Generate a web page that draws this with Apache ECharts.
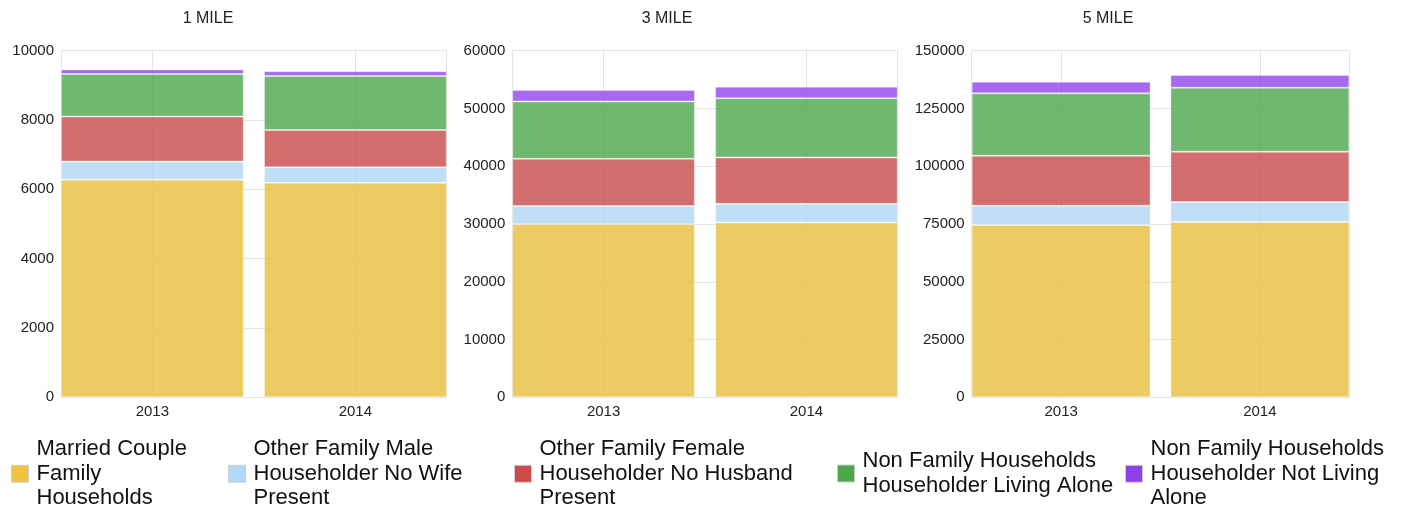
<!DOCTYPE html>
<html><head><meta charset="utf-8">
<script src="https://cdn.jsdelivr.net/npm/echarts@6/dist/echarts.min.js"></script>
<style>html,body{margin:0;padding:0;background:#fff}#c{width:1402px;height:510px}</style>
</head><body><div id="c"></div>
<script>
const years = ['2013', '2014'];
const seriesNames = [
  'Married Couple Family Households',
  'Other Family Male Householder No Wife Present',
  'Other Family Female Householder No Husband Present',
  'Non Family Households Householder Living Alone',
  'Non Family Households Householder Not Living Alone'
];
const legendLabels = [
  'Married Couple\nFamily\nHouseholds',
  'Other Family Male\nHouseholder No Wife\nPresent',
  'Other Family Female\nHouseholder No Husband\nPresent',
  'Non Family Households\nHouseholder Living Alone',
  'Non Family Households\nHouseholder Not Living\nAlone'
];
const chartTitles = ['1 MILE', '3 MILE', '5 MILE'];
const yMax = [10000, 60000, 150000];
const yStep = [2000, 10000, 25000];

// 1 mile
const married1 = [6280, 6190];
const male1 = [520, 445];
const female1 = [1300, 1075];
const alone1 = [1230, 1560];
const notAlone1 = [127, 136];
// 3 mile
const married3 = [29950, 30250];
const male3 = [3150, 3250];
const female3 = [8190, 8030];
const alone3 = [9930, 10260];
const notAlone3 = [1960, 1955];
// 5 mile
const married5 = [74550, 75850];
const male5 = [8350, 8650];
const female5 = [21635, 21770];
const alone5 = [27000, 27690];
const notAlone5 = [5015, 5490];

const chartData = [
  [married1, male1, female1, alone1, notAlone1],
  [married3, male3, female3, alone3, notAlone3],
  [married5, male5, female5, alone5, notAlone5]
];

const barColors = ['rgba(231,190,60,0.8)', 'rgba(174,215,243,0.8)', 'rgba(201,74,74,0.8)', 'rgba(76,166,76,0.8)', 'rgba(146,66,236,0.8)'];
const swatchColors = ['#efc23f', '#b0d8f8', '#d04848', '#4ca84c', '#9040e8'];

const FONT = 'Liberation Sans, Arial, sans-serif';
const grids = [
  {left: 61, right: 1402 - 446.7, top: 50.7, bottom: 510 - 397.3},
  {left: 512.3, right: 1402 - 897.7, top: 50.7, bottom: 510 - 397.3},
  {left: 971.7, right: 1402 - 1349.3, top: 50.7, bottom: 510 - 397.3}
];
const titleX = [203, 662, 1103];
const gridLine = '#e4e4e4';

const xAxes = [], yAxes = [], series = [], titles = [];
for (let c = 0; c < 3; c++) {
  titles.push({text: chartTitles[c], left: titleX[c], top: 6, textAlign: 'center',
    textStyle: {fontFamily: FONT, fontSize: 16, fontWeight: 'normal', color: '#222'}});
  xAxes.push({type: 'value', gridIndex: c, min: -0.45, max: 1.45, splitNumber: 2,
    axisLine: {show: true, lineStyle: {color: gridLine}},
    axisTick: {show: false},
    splitLine: {show: true, lineStyle: {color: gridLine}},
    axisLabel: {fontFamily: FONT, fontSize: 15, color: '#222', margin: 7,
      showMinLabel: true, showMaxLabel: true,
      formatter: v => (Math.abs(v) < 1e-6 ? years[0] : (Math.abs(v - 1) < 1e-6 ? years[1] : ''))}
  });
  yAxes.push({type: 'value', gridIndex: c, min: 0, max: yMax[c], interval: yStep[c],
    axisLine: {show: true, lineStyle: {color: gridLine}},
    axisTick: {show: false},
    splitLine: {show: true, lineStyle: {color: gridLine}},
    axisLabel: {fontFamily: FONT, fontSize: 15, color: '#222', margin: 7, formatter: v => String(v)}
  });
  for (let k = 0; k < 5; k++) {
    series.push({type: 'bar', name: seriesNames[k], xAxisIndex: c, yAxisIndex: c,
      stack: 'c' + c, barWidth: '90%',
      encode: {x: 1, y: 0},
      data: chartData[c][k].map((v, i) => [v, i]),
      itemStyle: {color: barColors[k], borderColor: 'rgba(255,255,255,0.3)', borderWidth: 1},
      emphasis: {disabled: true}, animation: false});
  }
}

const legendLeft = [11, 228, 514, 837, 1125];
const legends = seriesNames.map((n, k) => {
  const lines = legendLabels[k].split('\n').length;
  return {
    left: legendLeft[k], top: 473 - lines * 12, padding: 0,
    icon: 'rect', itemWidth: 17, itemHeight: 17, itemGap: 0,
    selectedMode: false,
    data: [{name: n, itemStyle: {color: swatchColors[k], borderColor: '#cfcfcf', borderWidth: 1, opacity: 1}}],
    formatter: () => legendLabels[k],
    textStyle: {fontFamily: FONT, fontSize: 22, lineHeight: 24.5, color: '#111', padding: [0, 0, 0, 3]}
  };
});

const chart = echarts.init(document.getElementById('c'), null, {renderer: 'canvas'});
chart.setOption({
  animation: false,
  title: titles,
  grid: grids,
  xAxis: xAxes,
  yAxis: yAxes,
  legend: legends,
  series: series
});
</script></body></html>
